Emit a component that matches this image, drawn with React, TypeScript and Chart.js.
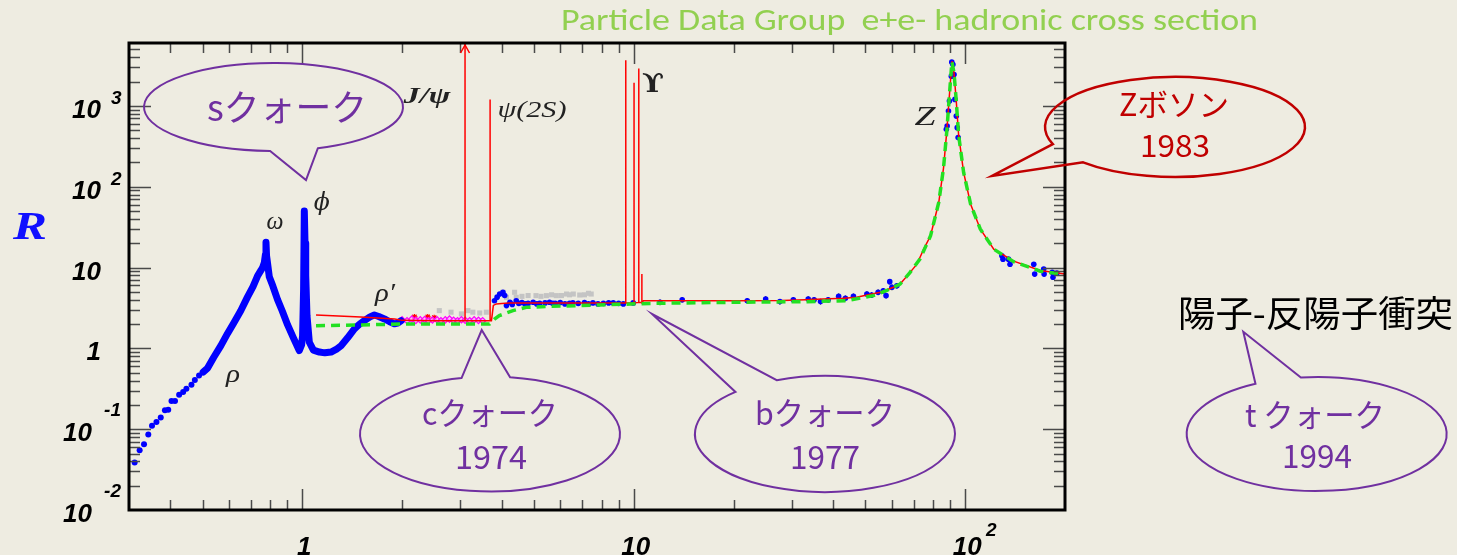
import React, { useEffect, useRef } from 'react';
import { Chart, registerables } from 'chart.js';

Chart.register(...registerables);

// ---------- data (sqrt(s) in GeV, R) ----------
const lowSparseE = [0.312, 0.323, 0.333, 0.343, 0.352, 0.363, 0.374, 0.385, 0.394, 0.403, 0.413, 0.425, 0.437, 0.447, 0.463, 0.474, 0.488];
const lowSparseR = [0.0386, 0.0548, 0.0649, 0.0862, 0.11, 0.123, 0.139, 0.171, 0.174, 0.223, 0.223, 0.267, 0.288, 0.316, 0.354, 0.405, 0.461];

const lowCurveE = [0.502, 0.518, 0.54, 0.568, 0.595, 0.623, 0.652, 0.683, 0.71, 0.733, 0.75, 0.759, 0.768, 0.774, 0.777, 0.78, 0.785, 0.795, 0.815, 0.842, 0.87, 0.903, 0.94, 0.979, 0.995, 1.002, 1.009, 1.014, 1.019, 1.024, 1.033, 1.05, 1.08, 1.126, 1.17, 1.221, 1.265, 1.309, 1.37, 1.436, 1.49, 1.539, 1.6, 1.65, 1.7, 1.769, 1.83, 1.896, 1.94, 1.987];
const lowCurveR = [0.508, 0.57, 0.77, 1.08, 1.53, 2.11, 2.92, 4.3, 5.8, 7.9, 9.2, 10.0, 11.5, 14.5, 20.5, 14.0, 11.5, 7.7, 5.9, 4.0, 2.9, 1.95, 1.35, 0.94, 1.1, 1.44, 5.4, 50, 20, 8, 2.54, 1.19, 0.95, 0.9, 0.88, 0.9, 0.97, 1.08, 1.35, 1.74, 2.0, 2.2, 2.45, 2.59, 2.48, 2.31, 2.15, 2.01, 2.05, 2.2];

const redE = [1.1, 1.5, 1.9, 2.0, 2.5, 3.05, 3.097, 3.097, 3.097, 3.3, 3.686, 3.686, 3.686, 3.72, 3.74, 3.77, 3.85, 4.0, 4.2, 5, 7, 9.0, 9.46, 9.46, 9.46, 10.02, 10.02, 10.02, 10.355, 10.355, 10.355, 10.58, 10.58, 10.58, 10.7, 14, 20, 28, 33, 37.2, 43, 47, 51, 55.5, 60.7, 63.6, 67, 71.5, 75, 78.6, 83.2, 86, 88, 89.4, 90.8, 91.2, 92.5, 93.9, 95.5, 98.9, 103.9, 111, 121.9, 140, 168.5, 200];
const redR = [2.59, 2.45, 2.31, 2.22, 2.2, 2.2, 2.2, 6000, 2.2, 2.2, 2.2, 1200, 2.2, 2.2, 2.6, 3.4, 3.55, 3.6, 3.65, 3.65, 3.65, 3.65, 3.65, 3680, 3.65, 3.65, 1930, 3.65, 3.7, 2900, 3.7, 3.7, 8.3, 3.7, 3.89, 3.89, 3.89, 3.92, 4.0, 4.08, 4.18, 4.28, 4.6, 4.94, 5.7, 6.25, 8.0, 11, 17, 24.7, 63.8, 170, 490, 1200, 2830, 3570, 2570, 1200, 440, 150, 60, 30, 16.9, 12, 9.2, 8.3];
const jpsiE = 3.097;

const greenE = [1.1, 1.5, 2.0, 3.0, 3.67, 3.8, 3.93, 4.32, 4.74, 5.57, 7.9, 11.2, 20.9, 33.3, 43.9, 52.8, 58, 63.6, 68, 73, 78.6, 83.2, 86, 88, 89.4, 90.8, 91.2, 92.5, 93.9, 95.5, 98.9, 103.9, 111, 121.9, 140, 168.5, 200];
const greenR = [1.91, 1.95, 2.0, 2.0, 2.0, 2.3, 2.54, 2.93, 3.22, 3.31, 3.44, 3.6, 3.72, 3.78, 3.89, 4.49, 5.2, 6.25, 8.6, 12.7, 24.7, 63.8, 170, 490, 1200, 2830, 3500, 2570, 1200, 440, 150, 60, 30, 16.9, 11.8, 9.0, 8.2];

const midE = [3.8, 3.87, 3.94, 4.03, 4.08, 4.13, 4.23, 4.3, 4.42, 4.5, 4.6, 4.7, 4.8, 4.97, 5.1, 5.2, 5.4, 5.57, 5.7, 5.8, 6.0, 6.2, 6.4, 6.55, 6.8, 7.1, 7.3, 7.53, 7.8, 8.1, 8.4, 8.67, 9.0, 9.3, 9.96];
const midR = [3.89, 4.3, 4.7, 4.94, 4.5, 3.38, 3.72, 3.5, 3.89, 3.6, 3.7, 3.55, 3.6, 3.72, 3.55, 3.6, 3.65, 3.72, 3.6, 3.6, 3.7, 3.55, 3.6, 3.65, 3.6, 3.7, 3.55, 3.65, 3.55, 3.6, 3.65, 3.65, 3.6, 3.55, 3.65];

const contE = [12.0, 14.0, 22.0, 25.0, 27.6, 30.3, 33.6, 35.0, 36.6, 38.6, 41.5, 43.5, 46.0, 50.5, 52.2, 54.6, 56.6, 57.7, 59.2, 60.1, 62.2];
const contR = [3.72, 4.0, 3.89, 4.08, 3.79, 4.0, 4.08, 4.0, 3.79, 4.0, 4.41, 4.16, 4.41, 4.7, 4.57, 4.94, 5.17, 4.49, 6.69, 5.7, 5.96];

const zE = [91.1, 91.8, 90.8, 92.5, 89.6, 93.1, 89.0, 94.0, 88.2, 94.6, 87.7, 95.2];
const zR = [3475, 3250, 2335, 2450, 1146, 1203, 863, 748, 564, 538, 513, 405];

const hiE = [129, 130, 135, 136.5, 161, 162, 172.5, 173, 183, 184, 189];
const hiR = [14.0, 12.7, 12.7, 11.0, 11.0, 8.3, 9.58, 8.3, 8.73, 7.57, 8.55];

const grayE = [2.59, 2.81, 3.02, 3.16, 3.27, 3.43, 3.59, 4.03, 4.13, 4.37, 4.42, 4.6, 4.8, 5.07, 5.25, 5.45, 5.65, 5.84, 6.05, 6.27, 6.4, 6.57, 6.87, 7.1, 7.3, 7.44];
const grayR = [2.93, 2.8, 2.67, 2.93, 2.8, 2.74, 2.8, 4.94, 4.28, 4.94, 4.28, 4.4, 4.5, 4.49, 4.4, 4.49, 4.6, 4.49, 4.5, 4.7, 4.6, 4.7, 4.57, 4.6, 4.8, 4.7];

const magE = [2.0, 2.07, 2.14, 2.2, 2.27, 2.34, 2.4, 2.47, 2.55, 2.62, 2.7, 2.78, 2.86, 2.94, 3.02, 3.1, 3.2, 3.3, 3.4, 3.5];
const magR = [2.25, 2.2, 2.3, 2.22, 2.25, 2.28, 2.2, 2.24, 2.26, 2.2, 2.25, 2.3, 2.22, 2.2, 2.26, 2.23, 2.2, 2.25, 2.22, 2.2];

const redPtE = [2.18, 2.39, 2.5];
const redPtR = [2.45, 2.45, 2.4];

// ---------- axes ----------
const xMajorTicks = [1, 10, 100];
const xMinorTicks = [0.4, 0.5, 0.6, 0.7, 0.8, 0.9, 2, 3, 4, 5, 6, 7, 8, 9, 20, 30, 40, 50, 60, 70, 80, 90];
const yMajorTicks = [0.1, 1, 10, 100, 1000];
const yMinorTicks = [0.02, 0.03, 0.04, 0.05, 0.06, 0.07, 0.08, 0.09, 0.2, 0.3, 0.4, 0.5, 0.6, 0.7, 0.8, 0.9, 2, 3, 4, 5, 6, 7, 8, 9, 20, 30, 40, 50, 60, 70, 80, 90, 200, 300, 400, 500, 600, 700, 800, 900, 2000, 3000, 4000, 5000];
const yLabelValues = [0.01, 0.1, 1, 10, 100, 1000];
const yLabelBases = ['10', '10', '1', '10', '10', '10'];
const yLabelExps = ['-2', '-1', '', '', '2', '3'];
const xLabelValues = [1, 10, 100];
const xLabelBases = ['1', '10', '10'];
const xLabelExps = ['', '', '2'];

const BG = '#EEECE1';
const PURPLE = '#7030A0';
const DARKRED = '#C00000';
const CJK = "'Noto Sans CJK JP', 'Noto Sans', sans-serif";
const TICKFONT = "'Liberation Sans', Arial, sans-serif";
const SERIF = "'Liberation Serif', 'DejaVu Serif', serif";

const pts = (xs: number[], ys: number[]) => xs.map((x, i) => ({ x, y: ys[i] }));

function fitText(ctx: CanvasRenderingContext2D, text: string, cx: number, cy: number, font: string, color: string, w?: number) {
  ctx.save();
  ctx.font = font;
  ctx.fillStyle = color;
  ctx.textAlign = 'center';
  ctx.textBaseline = 'middle';
  const m = ctx.measureText(text).width;
  const s = w ? w / m : 1;
  ctx.translate(cx, cy);
  ctx.scale(s, 1);
  ctx.fillText(text, 0, 0);
  ctx.restore();
}

type Bubble = { cx: number; cy: number; rx: number; ry: number; a1: number; a2: number; tx: number; ty: number; color: string; lw: number; texts: { t: string; x: number; y: number; w: number; size: number }[] };

const bubbles: Bubble[] = [
  { cx: 273.5, cy: 107, rx: 129.5, ry: 44, a1: 70, a2: 91.5, tx: 306, ty: 180, color: PURPLE, lw: 2, texts: [{ t: 'sクォーク', x: 287, y: 107, w: 160, size: 36 }] },
  { cx: 490, cy: 434, rx: 130, ry: 57.5, a1: -102.6, a2: -81.1, tx: 481.7, ty: 330, color: PURPLE, lw: 2, texts: [{ t: 'cクォーク', x: 490, y: 413, w: 136, size: 32 }, { t: '1974', x: 491, y: 457, w: 72, size: 32 }] },
  { cx: 825, cy: 434, rx: 130, ry: 58, a1: -133.5, a2: -111.8, tx: 652, ty: 314, color: PURPLE, lw: 2, texts: [{ t: 'bクォーク', x: 825, y: 413, w: 140, size: 32 }, { t: '1977', x: 825, y: 457, w: 70, size: 32 }] },
  { cx: 1316.7, cy: 434, rx: 130, ry: 57, a1: -118.1, a2: -97, tx: 1243.3, ty: 331.7, color: PURPLE, lw: 2, texts: [{ t: 't クォーク', x: 1315, y: 415, w: 140, size: 32 }, { t: '1994', x: 1317, y: 456, w: 70, size: 32 }] },
  { cx: 1175, cy: 127, rx: 130, ry: 50, a1: 135, a2: 160, tx: 992, ty: 176, color: DARKRED, lw: 2.5, texts: [{ t: 'Zボソン', x: 1174, y: 104, w: 110, size: 31 }, { t: '1983', x: 1175, y: 145, w: 70, size: 31 }] },
];

const bgPlugin = {
  id: 'bg',
  beforeDraw(chart: any) {
    const ctx = chart.ctx;
    ctx.save();
    ctx.fillStyle = BG;
    ctx.fillRect(0, 0, chart.width, chart.height);
    ctx.restore();
  },
};

const errPlugin = {
  id: 'errBars',
  beforeDatasetsDraw(chart: any) {
    const { ctx, chartArea: a } = chart;
    const xs = chart.scales.x, ys = chart.scales.y;
    ctx.save();
    ctx.beginPath();
    ctx.rect(a.left, a.top, a.right - a.left, a.bottom - a.top);
    ctx.clip();
    ctx.strokeStyle = '#222';
    ctx.lineWidth = 1.2;
    chart.data.datasets.forEach((ds: any) => {
      if (!ds.errFrac) return;
      ds.data.forEach((p: any) => {
        const px = xs.getPixelForValue(p.x);
        ctx.beginPath();
        ctx.moveTo(px, ys.getPixelForValue(p.y * (1 + ds.errFrac)));
        ctx.lineTo(px, ys.getPixelForValue(p.y * (1 - ds.errFrac)));
        ctx.stroke();
      });
    });
    ctx.restore();
  },
};

const framePlugin = {
  id: 'frame',
  afterDatasetsDraw(chart: any) {
    const { ctx, chartArea: a } = chart;
    const xs = chart.scales.x, ys = chart.scales.y;
    ctx.save();
    ctx.strokeStyle = '#4a4a4a';
    ctx.lineWidth = 1.5;
    const vt = (v: number, len: number) => {
      const px = Math.round(xs.getPixelForValue(v)) + 0.5;
      ctx.beginPath();
      ctx.moveTo(px, a.bottom); ctx.lineTo(px, a.bottom - len);
      ctx.moveTo(px, a.top); ctx.lineTo(px, a.top + len);
      ctx.stroke();
    };
    const ht = (v: number, len: number) => {
      const py = Math.round(ys.getPixelForValue(v)) + 0.5;
      ctx.beginPath();
      ctx.moveTo(a.left, py); ctx.lineTo(a.left + len, py);
      ctx.moveTo(a.right, py); ctx.lineTo(a.right - len, py);
      ctx.stroke();
    };
    xMinorTicks.forEach((v) => vt(v, 10));
    xMajorTicks.forEach((v) => vt(v, 21));
    yMinorTicks.forEach((v) => ht(v, 11));
    yMajorTicks.forEach((v) => ht(v, 22));

    // J/psi arrow head
    const jx = xs.getPixelForValue(jpsiE);
    ctx.strokeStyle = '#FF0000';
    ctx.lineWidth = 1.5;
    ctx.beginPath();
    ctx.moveTo(jx - 4.5, a.top + 10);
    ctx.lineTo(jx, a.top + 2);
    ctx.lineTo(jx + 4.5, a.top + 10);
    ctx.stroke();

    ctx.strokeStyle = '#000';
    ctx.lineWidth = 3;
    ctx.strokeRect(a.left, a.top, a.right - a.left, a.bottom - a.top);

    // tick labels
    ctx.fillStyle = '#000';
    ctx.textBaseline = 'alphabetic';
    yLabelValues.forEach((v, i) => {
      const py = ys.getPixelForValue(v);
      const exp = yLabelExps[i];
      const neg = exp.startsWith('-');
      ctx.font = `bold italic 26px ${TICKFONT}`;
      ctx.textAlign = 'right';
      ctx.fillText(yLabelBases[i], a.left - (neg ? 37 : 28), py + 12);
      if (exp) {
        ctx.font = `bold italic 19px ${TICKFONT}`;
        if (neg) {
          ctx.textAlign = 'right';
          ctx.fillText(exp, a.left - 8, py - 13);
        } else {
          ctx.textAlign = 'left';
          ctx.fillText(exp, a.left - 18, py - 2);
        }
      }
    });
    xLabelValues.forEach((v, i) => {
      const px = xs.getPixelForValue(v);
      ctx.font = `bold italic 26px ${TICKFONT}`;
      ctx.textAlign = 'center';
      ctx.fillText(xLabelBases[i], px + 2, a.bottom + 45);
      if (xLabelExps[i]) {
        ctx.font = `bold italic 19px ${TICKFONT}`;
        ctx.textAlign = 'center';
        ctx.fillText(xLabelExps[i], px + 26, a.bottom + 26);
      }
    });
    ctx.restore();
  },
};

const annotPlugin = {
  id: 'annot',
  afterDraw(chart: any) {
    const ctx: CanvasRenderingContext2D = chart.ctx;
    ctx.save();
    // title
    fitText(ctx, 'Particle Data Group  e+e- hadronic cross section', 909.5, 22, "30px Carlito, 'Noto Sans', sans-serif", '#92D050', 697);
    // axis title
    fitText(ctx, 'R', 30, 229, `bold italic 40px ${SERIF}`, '#1010FF', 34);
    // particle labels
    const g = '#222';
    fitText(ctx, 'J/ψ', 427, 97, `bold italic 24px ${SERIF}`, g, 47);
    fitText(ctx, 'ψ(2S)', 532, 111, `italic 24px ${SERIF}`, g, 69);
    fitText(ctx, 'ϒ', 653, 85, `bold 26px 'DejaVu Serif', serif`, g, 22);
    fitText(ctx, 'ω', 275, 222, `italic 26px ${SERIF}`, g, 17);
    fitText(ctx, 'ϕ', 321.7, 204, `italic 24px 'DejaVu Serif', serif`, g, 16);
    fitText(ctx, 'ρ′', 385, 294, `italic 26px ${SERIF}`, g, 20);
    fitText(ctx, 'ρ', 233, 375, `italic 26px ${SERIF}`, g, 14);
    fitText(ctx, 'Z', 925, 118, `italic 28px ${SERIF}`, g, 21);
    // bubbles
    bubbles.forEach((b) => {
      const ta = (b.a1 * Math.PI) / 180;
      const tb = (b.a2 * Math.PI) / 180;
      ctx.beginPath();
      ctx.ellipse(b.cx, b.cy, b.rx, b.ry, 0, tb, ta, false);
      ctx.lineTo(b.tx, b.ty);
      ctx.closePath();
      ctx.strokeStyle = b.color;
      ctx.lineWidth = b.lw;
      ctx.stroke();
      b.texts.forEach((t) => fitText(ctx, t.t, t.x, t.y, `${t.size}px ${CJK}`, b.color, t.w));
    });
    fitText(ctx, '陽子-反陽子衝突', 1315.5, 313, `36px ${CJK}`, '#000', 275);
    ctx.restore();
  },
};

export default function App() {
  const ref = useRef<HTMLCanvasElement>(null);
  useEffect(() => {
    if (!ref.current) return;
    const blue = '#0000FF';
    const chart = new Chart(ref.current, {
      type: 'scatter',
      data: {
        datasets: [
          { label: 'parton', data: pts(greenE, greenR), showLine: true, borderColor: '#22E022', borderWidth: 3.5, borderDash: [9, 6], pointRadius: 0, order: 0 } as any,
          { label: 'theory', data: pts(redE, redR), showLine: true, borderColor: '#FF0000', borderWidth: 1.5, pointRadius: 0, order: 1 } as any,
          { label: 'low', data: pts(lowCurveE, lowCurveR), showLine: true, borderColor: blue, borderWidth: 7, borderJoinStyle: 'round', borderCapStyle: 'round', pointRadius: 2.5, pointBackgroundColor: blue, pointBorderWidth: 0, order: 2 } as any,
          { label: 'lowSparse', data: pts(lowSparseE, lowSparseR), pointRadius: 3, backgroundColor: blue, borderWidth: 0, order: 2 } as any,
          { label: 'mid', data: pts(midE, midR), pointRadius: 2.8, backgroundColor: blue, borderWidth: 0, errFrac: 0.05, order: 3 } as any,
          { label: 'cont', data: pts(contE, contR), pointRadius: 2.8, backgroundColor: blue, borderWidth: 0, errFrac: 0.08, order: 3 } as any,
          { label: 'z', data: pts(zE, zR), pointRadius: 2.8, backgroundColor: blue, borderWidth: 0, errFrac: 0.05, order: 3 } as any,
          { label: 'hi', data: pts(hiE, hiR), pointRadius: 2.8, backgroundColor: blue, borderWidth: 0, errFrac: 0.06, order: 3 } as any,
          { label: 'magenta', data: pts(magE, magR), pointStyle: 'rectRot', pointRadius: 3.2, backgroundColor: 'rgba(255,160,255,0.7)', borderColor: '#FF00FF', borderWidth: 1.2, order: 4 } as any,
          { label: 'redpts', data: pts(redPtE, redPtR), pointStyle: 'star', pointRadius: 3, borderColor: '#FF0000', borderWidth: 1.2, order: 4 } as any,
          { label: 'gray', data: pts(grayE, grayR), pointStyle: 'rect', pointRadius: 3.6, backgroundColor: '#C4C4C4', borderWidth: 0, order: 5 } as any,
        ],
      },
      options: {
        animation: false,
        responsive: false,
        events: [],
        layout: { padding: { left: 129, top: 43, right: 392, bottom: 45 } },
        plugins: { legend: { display: false }, tooltip: { enabled: false } },
        scales: {
          x: { type: 'logarithmic', min: 0.3, max: 200, display: false },
          y: { type: 'logarithmic', min: 0.01, max: 6000, display: false },
        },
      },
      plugins: [bgPlugin, errPlugin, framePlugin, annotPlugin],
    } as any);
    return () => chart.destroy();
  }, []);
  return (
    <div style={{ position: 'fixed', left: 0, top: 0, width: 1457, height: 555, background: BG }}>
      <canvas ref={ref} width={1457} height={555} style={{ display: 'block', width: 1457, height: 555 }} />
    </div>
  );
}
